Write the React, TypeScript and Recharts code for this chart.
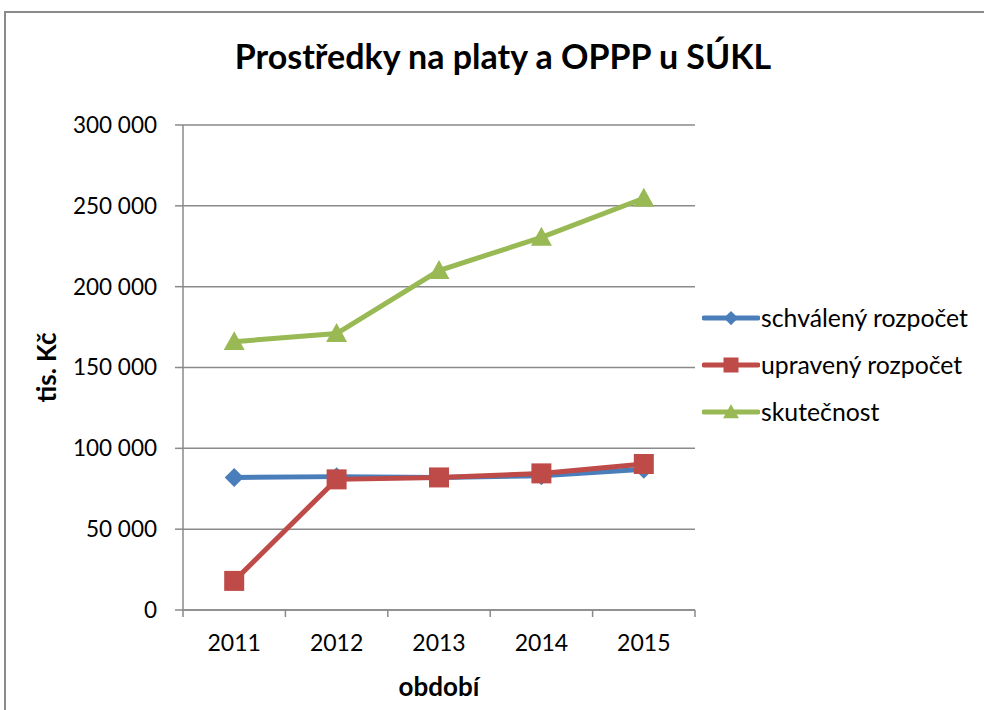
import { CartesianGrid, Legend, Line, LineChart, XAxis, YAxis } from "recharts";

const years = ["2011", "2012", "2013", "2014", "2015"];
const schvaleny = [82000, 82500, 82000, 83000, 87000];
const upraveny = [18000, 80800, 82000, 84500, 90300];
const skutecnost = [166000, 171000, 210000, 230500, 254700];
const yTicks = [0, 50000, 100000, 150000, 200000, 250000, 300000];

const data = years.map((year, i) => ({
  year,
  schvaleny: schvaleny[i],
  upraveny: upraveny[i],
  skutecnost: skutecnost[i],
}));

const W = 984;
const H = 710;
const PLOT_L = 183;
const PLOT_R = 695;
const PLOT_T = 125;
const PLOT_B = 610;
const BAND = (PLOT_R - PLOT_L) / years.length;
const AXIS = "#8a8a8a";
const FONT = "Lato, 'Open Sans', sans-serif";

const series = [
  { key: "schvaleny", name: "schválený rozpočet", color: "#4a7ebb", marker: "diamond" },
  { key: "upraveny", name: "upravený rozpočet", color: "#be4b48", marker: "square" },
  { key: "skutecnost", name: "skutečnost", color: "#98b954", marker: "triangle" },
];

function formatThousands(v: number) {
  return String(v).replace(/\B(?=(\d{3})+(?!\d))/g, " ");
}

function Marker({ kind, cx, cy, color, s = 1 }: { kind: string; cx: number; cy: number; color: string; s?: number }) {
  if (kind === "diamond") {
    const r = 9.5 * s;
    return <polygon points={`${cx},${cy - r} ${cx + r},${cy} ${cx},${cy + r} ${cx - r},${cy}`} fill={color} />;
  }
  if (kind === "square") {
    const r = 10 * s;
    return <rect x={cx - r} y={cy - r} width={2 * r} height={2 * r} fill={color} />;
  }
  const r = 10.5 * s;
  return <polygon points={`${cx},${cy - r} ${cx + r},${cy + r * 0.8} ${cx - r},${cy + r * 0.8}`} fill={color} />;
}

function YearTick(props: any) {
  const { x, y, payload, index } = props;
  const half = BAND / 2;
  return (
    <g>
      <line x1={x - half} x2={x - half} y1={PLOT_B} y2={PLOT_B + 7} stroke={AXIS} strokeWidth={1.5} />
      {index === years.length - 1 && (
        <line x1={x + half} x2={x + half} y1={PLOT_B} y2={PLOT_B + 7} stroke={AXIS} strokeWidth={1.5} />
      )}
      <text x={x} y={y} dy="0.71em" textAnchor="middle" fontSize={23} fontFamily={FONT} fill="#000">
        {payload.value}
      </text>
    </g>
  );
}

function LegendContent() {
  return (
    <div style={{ fontFamily: FONT, fontSize: 24.8, color: "#000" }}>
      {series.map((s) => (
        <div key={s.key} style={{ display: "flex", alignItems: "center", height: 47 }}>
          <svg width={58} height={24} style={{ display: "block" }}>
            <line x1={2} x2={56} y1={12} y2={12} stroke={s.color} strokeWidth={5} strokeLinecap="round" />
            <Marker kind={s.marker} cx={29} cy={12} color={s.color} s={0.75} />
          </svg>
          <span style={{ marginLeft: 1 }}>{s.name}</span>
        </div>
      ))}
    </div>
  );
}

export default function App() {
  return (
    <div style={{ position: "absolute", left: 0, top: 0, width: W, height: H, overflow: "hidden", background: "#fff" }}>
      <div
        style={{
          position: "absolute",
          left: 4,
          top: 11,
          width: W + 20,
          height: H + 20,
          border: `2px solid ${AXIS}`,
          boxSizing: "border-box",
        }}
      />
      <div
        style={{
          position: "absolute",
          left: 0,
          top: 37,
          width: 1006,
          textAlign: "center",
          fontFamily: FONT,
          fontWeight: 700,
          fontSize: 34,
          lineHeight: "38px",
          color: "#000",
        }}
      >
        Prostředky na platy a OPPP u SÚKL
      </div>
      <div style={{ position: "absolute", left: 0, top: 0 }}>
        <LineChart
          width={W}
          height={H}
          data={data}
          margin={{ top: PLOT_T, right: W - PLOT_R, bottom: H - PLOT_B - 90, left: PLOT_L - 140 }}
        >
          <CartesianGrid vertical={false} stroke={AXIS} strokeWidth={1.5} />
          <XAxis
            dataKey="year"
            height={90}
            padding={{ left: BAND / 2, right: BAND / 2 }}
            axisLine={{ stroke: AXIS, strokeWidth: 1.5 }}
            tickLine={false}
            tickSize={8}
            tickMargin={17}
            tick={<YearTick />}
            interval={0}
            label={{
              value: "období",
              position: "insideBottom",
              offset: 4,
              style: { fontFamily: FONT, fontSize: 26, fontWeight: 700, fill: "#000" },
            }}
          />
          <YAxis
            width={140}
            domain={[0, 300000]}
            ticks={yTicks}
            interval={0}
            tickFormatter={formatThousands}
            axisLine={{ stroke: AXIS, strokeWidth: 1.5 }}
            tickLine={{ stroke: AXIS, strokeWidth: 1.5 }}
            tickSize={8}
            tickMargin={18}
            tick={{ fontFamily: FONT, fontSize: 22.5, fill: "#000" }}
            label={{
              value: "tis. Kč",
              angle: -90,
              position: "insideLeft",
              offset: 4,
              style: { fontFamily: FONT, fontSize: 26, fontWeight: 700, fill: "#000", textAnchor: "middle" },
            }}
          />
          <Legend
            layout="horizontal"
            verticalAlign="middle"
            align="center"
            content={<LegendContent />}
            wrapperStyle={{ left: 702, top: 294, width: 282, height: 141 }}
          />
          {series.map((s) => (
            <Line
              key={s.key}
              dataKey={s.key}
              name={s.name}
              stroke={s.color}
              strokeWidth={5}
              isAnimationActive={false}
              dot={(p: any) => <Marker key={`${s.key}-${p.index}`} kind={s.marker} cx={p.cx} cy={p.cy} color={s.color} />}
              activeDot={false}
            />
          ))}
        </LineChart>
      </div>
    </div>
  );
}
